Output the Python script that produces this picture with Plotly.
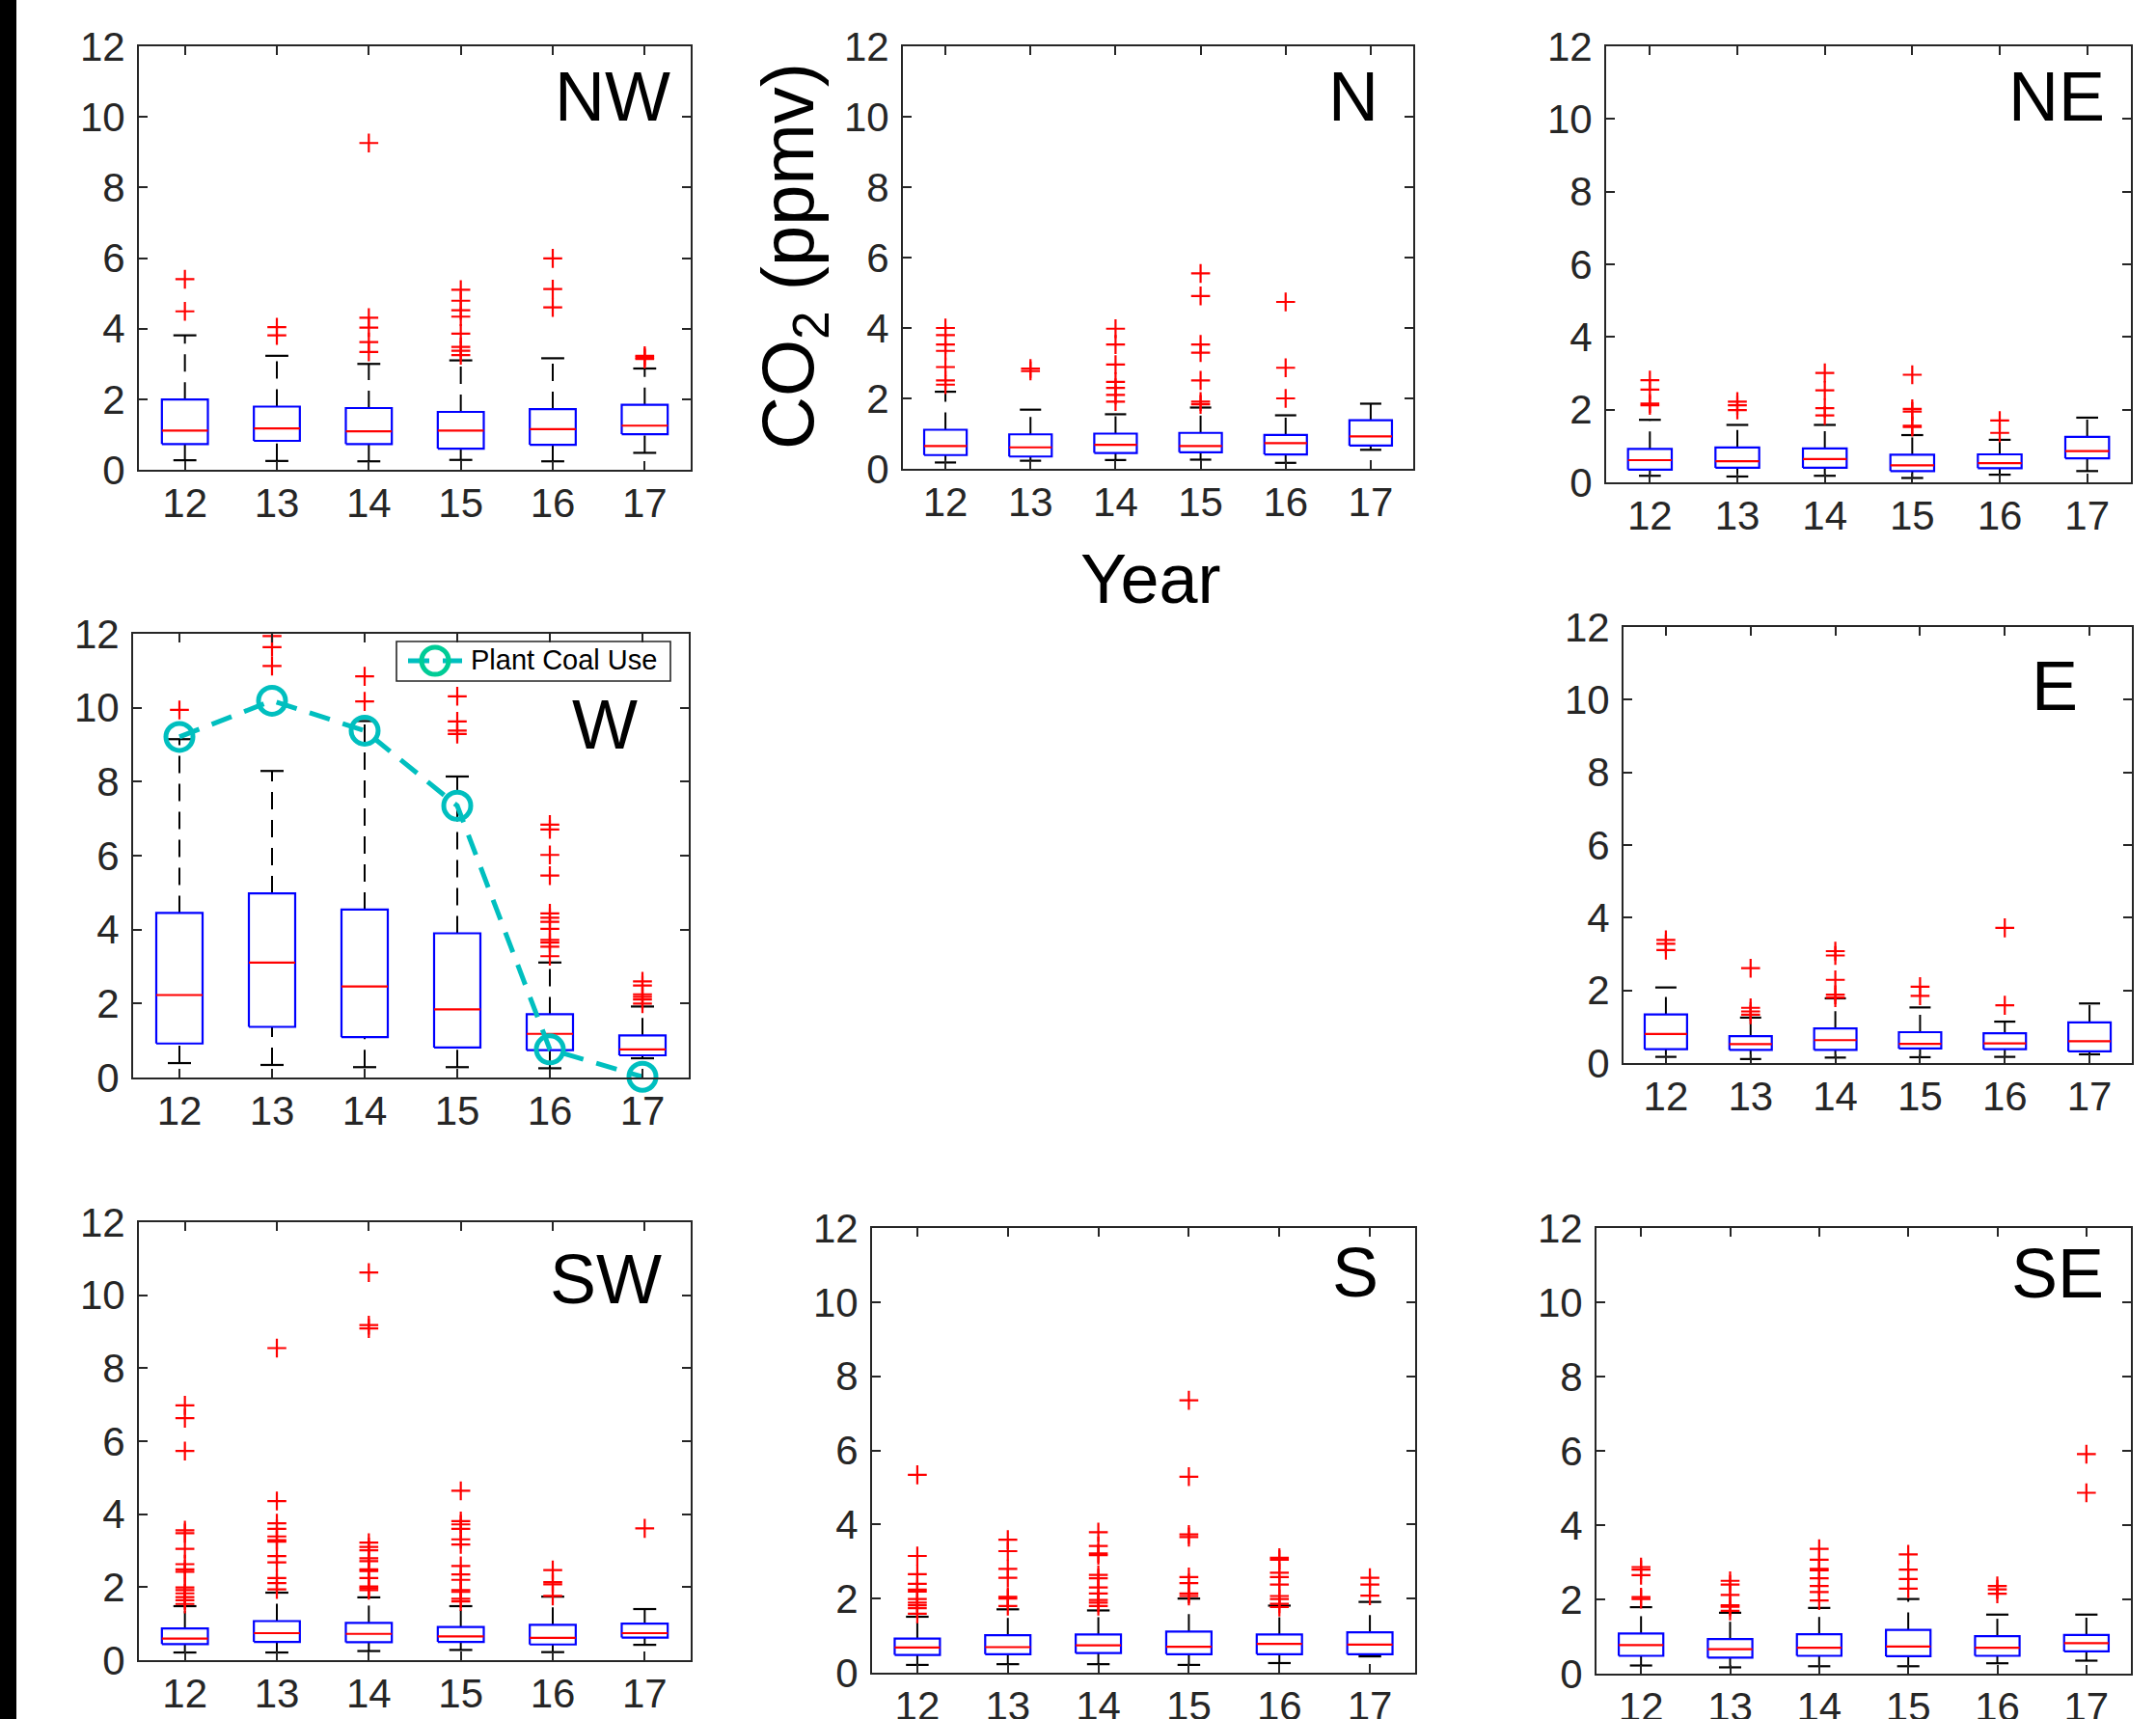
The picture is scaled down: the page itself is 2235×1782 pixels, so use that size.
import plotly.graph_objects as go

W_PX, H_PX = 2235, 1782
YEARS = [12, 13, 14, 15, 16, 17]

# ---------------- data (CO2 ppmv box statistics by wind sector) ----------------
NW_LOW = [0.27, 0.25, 0.24, 0.28, 0.24, 0.48]
NW_Q1 = [0.73, 0.82, 0.73, 0.60, 0.71, 1.01]
NW_MED = [1.11, 1.17, 1.09, 1.11, 1.15, 1.25]
NW_Q3 = [1.99, 1.79, 1.75, 1.64, 1.72, 1.84]
NW_UP = [3.81, 3.23, 3.00, 3.10, 3.16, 2.87]
NW_OUT = [[5.40, 4.49], [4.04, 3.81], [9.26, 4.31, 4.03, 3.62, 3.34],
          [5.10, 4.79, 4.52, 4.34, 3.86, 3.48, 3.37, 3.25], [5.99, 5.12, 4.60],
          [3.23, 3.18, 3.14]]

N_LOW = [0.18, 0.23, 0.25, 0.26, 0.17, 0.54]
N_Q1 = [0.39, 0.35, 0.45, 0.47, 0.41, 0.66]
N_MED = [0.65, 0.61, 0.68, 0.65, 0.73, 0.92]
N_Q3 = [1.11, 0.98, 1.00, 1.02, 0.96, 1.38]
N_UP = [2.19, 1.68, 1.55, 1.74, 1.52, 1.85]
N_OUT = [[4.00, 3.80, 3.53, 3.35, 2.89, 2.51, 2.39], [2.85, 2.78],
         [3.98, 3.53, 2.96, 2.47, 2.30, 2.10, 1.91],
         [5.55, 4.91, 3.53, 3.30, 2.51, 1.91, 1.83], [4.74, 2.87, 2.00], []]

NE_LOW = [0.18, 0.16, 0.18, 0.12, 0.21, 0.31]
NE_Q1 = [0.35, 0.40, 0.40, 0.31, 0.39, 0.66]
NE_MED = [0.61, 0.58, 0.64, 0.47, 0.53, 0.86]
NE_Q3 = [0.92, 0.96, 0.93, 0.76, 0.77, 1.25]
NE_UP = [1.72, 1.58, 1.58, 1.30, 1.17, 1.78]
NE_OUT = [[2.81, 2.55, 2.17, 2.12], [2.22, 2.12, 1.99], [3.01, 2.53, 2.04, 1.84],
          [2.96, 2.02, 1.95, 1.56, 1.52], [1.70, 1.36], []]

W_LOW = [0.39, 0.34, 0.28, 0.28, 0.25, 0.52]
W_Q1 = [0.92, 1.37, 1.09, 0.81, 0.74, 0.60]
W_MED = [2.23, 3.11, 2.46, 1.84, 1.18, 0.76]
W_Q3 = [4.45, 4.98, 4.54, 3.90, 1.71, 1.14]
W_UP = [9.15, 8.29, 9.64, 8.14, 3.11, 1.92]
W_OUT = [[9.94], [11.94, 11.64, 11.13], [10.85, 10.17], [10.31, 9.63, 9.38, 9.29],
         [6.84, 6.71, 6.02, 5.46, 4.44, 4.32, 4.21, 4.02, 3.72, 3.65, 3.54, 3.28],
         [2.60, 2.49, 2.25, 2.18, 2.11, 2.00]]

E_LOW = [0.17, 0.11, 0.15, 0.16, 0.17, 0.24]
E_Q1 = [0.38, 0.36, 0.36, 0.40, 0.38, 0.32]
E_MED = [0.80, 0.52, 0.63, 0.53, 0.54, 0.60]
E_Q3 = [1.34, 0.74, 0.95, 0.85, 0.82, 1.12]
E_UP = [2.08, 1.25, 1.78, 1.53, 1.14, 1.64]
E_OUT = [[3.39, 3.28, 3.11], [2.61, 1.52, 1.42, 1.33], [3.08, 2.96, 2.29, 1.88, 1.80],
         [2.10, 1.85], [3.72, 1.59], []]

SW_LOW = [0.21, 0.21, 0.25, 0.28, 0.22, 0.42]
SW_Q1 = [0.44, 0.50, 0.49, 0.50, 0.43, 0.62]
SW_MED = [0.59, 0.74, 0.72, 0.65, 0.61, 0.74]
SW_Q3 = [0.87, 1.07, 1.02, 0.91, 0.97, 1.00]
SW_UP = [1.48, 1.85, 1.72, 1.48, 1.74, 1.40]
SW_OUT = [[6.98, 6.63, 5.73, 3.56, 3.48, 3.05, 2.63, 2.49, 2.42, 1.99, 1.92, 1.83, 1.73, 1.64, 1.54],
          [8.55, 4.36, 3.75, 3.60, 3.39, 3.29, 3.25, 2.85, 2.68, 2.25, 2.11, 1.94],
          [10.62, 9.18, 9.09, 3.22, 3.10, 3.01, 2.79, 2.71, 2.49, 2.44, 2.25, 2.02, 1.97, 1.92],
          [4.64, 3.81, 3.72, 3.60, 3.31, 3.17, 2.58, 2.35, 2.20, 1.92, 1.87, 1.68, 1.61],
          [2.47, 2.14, 2.08, 1.76], [3.61]]

S_LOW = [0.21, 0.23, 0.23, 0.21, 0.26, 0.44]
S_Q1 = [0.48, 0.50, 0.53, 0.50, 0.50, 0.50]
S_MED = [0.68, 0.69, 0.74, 0.70, 0.78, 0.76]
S_Q3 = [0.92, 1.01, 1.03, 1.11, 1.03, 1.09]
S_UP = [1.51, 1.71, 1.68, 2.00, 1.81, 1.91]
S_OUT = [[5.34, 3.15, 2.66, 2.40, 2.24, 2.19, 1.99, 1.89, 1.82, 1.74, 1.59],
         [3.59, 3.28, 2.80, 2.56, 2.05, 2.00, 1.80],
         [3.79, 3.42, 3.22, 3.17, 2.64, 2.55, 2.30, 2.14, 1.96, 1.89, 1.80],
         [7.35, 5.29, 3.73, 3.66, 2.58, 2.42, 2.14, 2.07],
         [3.10, 3.05, 2.70, 2.58, 2.38, 2.07, 1.99, 1.86, 1.77],
         [2.56, 2.38, 2.08]]

SE_LOW = [0.22, 0.17, 0.20, 0.20, 0.28, 0.35]
SE_Q1 = [0.48, 0.43, 0.48, 0.47, 0.48, 0.60]
SE_MED = [0.77, 0.66, 0.70, 0.73, 0.70, 0.82]
SE_Q3 = [1.08, 0.93, 1.06, 1.18, 1.01, 1.04]
SE_UP = [1.79, 1.64, 1.77, 2.01, 1.59, 1.59]
SE_OUT = [[2.87, 2.80, 2.65, 2.06, 2.01], [2.50, 2.40, 2.12, 1.84, 1.80, 1.69],
          [3.36, 3.07, 2.82, 2.78, 2.57, 2.36, 2.20, 1.97], [3.21, 2.80, 2.55, 2.29],
          [2.36, 2.27, 2.15], [5.91, 4.87]]

COAL_USE = [9.21, 10.19, 9.38, 7.35, 0.76, 0.02]
COAL_NAME = "Plant Coal Use"

PANEL_NAMES = ["NW", "N", "NE", "W", "E", "SW", "S", "SE"]
PANEL_DATA = {
    "NW": (NW_LOW, NW_Q1, NW_MED, NW_Q3, NW_UP, NW_OUT),
    "N": (N_LOW, N_Q1, N_MED, N_Q3, N_UP, N_OUT),
    "NE": (NE_LOW, NE_Q1, NE_MED, NE_Q3, NE_UP, NE_OUT),
    "W": (W_LOW, W_Q1, W_MED, W_Q3, W_UP, W_OUT),
    "E": (E_LOW, E_Q1, E_MED, E_Q3, E_UP, E_OUT),
    "SW": (SW_LOW, SW_Q1, SW_MED, SW_Q3, SW_UP, SW_OUT),
    "S": (S_LOW, S_Q1, S_MED, S_Q3, S_UP, S_OUT),
    "SE": (SE_LOW, SE_Q1, SE_MED, SE_Q3, SE_UP, SE_OUT),
}

# ---------------- layout geometry (pixels) ----------------
PANEL_BOX = {  # left, top, right, bottom
    "NW": (144, 48, 716, 487),
    "N": (936, 48, 1465, 486),
    "NE": (1665, 48, 2209, 500),
    "W": (138, 657, 714, 1117),
    "E": (1683, 650, 2210, 1102),
    "SW": (144, 1267, 716, 1721),
    "S": (904, 1273, 1467, 1734),
    "SE": (1655, 1273, 2209, 1735),
}
LABEL_POS = {  # right edge x, vertical center y of label text
    "NW": (697, 100), "N": (1431, 100), "NE": (2184, 100), "W": (663, 751),
    "E": (2156, 711), "SW": (688, 1326), "S": (1431, 1319), "SE": (2183, 1320),
}
LEGEND_BOX = (411, 665, 695, 706)       # left, top, right, bottom
LEGEND_SAMPLE = (423, 479, 685)         # x0, x1, y-center of the legend sample line
LEGEND_TEXT_POS = (486, 684)


def px_x(x):
    return x / W_PX


def px_y(y):
    return 1 - y / H_PX


FONT = "Liberation Sans, Arial, Helvetica, sans-serif"
AX_COLOR = "#262626"
COAL_COLOR = "#00BFBF"
BOX_HALF = 0.25
CAP_HALF = 0.125
COAL_LINE = dict(color=COAL_COLOR, width=5, dash="22px,14px")
COAL_MARKER = dict(symbol="circle-open", size=28, line=dict(color=COAL_COLOR, width=5))

fig = go.Figure()
layout_axes = {}
annotations = []

for k, name in enumerate(PANEL_NAMES, start=1):
    low, q1, med, q3, up, outs = PANEL_DATA[name]
    xa = "x" if k == 1 else f"x{k}"
    ya = "y" if k == 1 else f"y{k}"

    wx, wy, cx, cy, bx, by, mx, my, ox, oy = [], [], [], [], [], [], [], [], [], []
    for i, yr in enumerate(YEARS):
        wx += [yr, yr, None, yr, yr, None]
        wy += [q3[i], up[i], None, low[i], q1[i], None]
        cx += [yr - CAP_HALF, yr + CAP_HALF, None, yr - CAP_HALF, yr + CAP_HALF, None]
        cy += [up[i], up[i], None, low[i], low[i], None]
        bx += [yr - BOX_HALF, yr + BOX_HALF, yr + BOX_HALF, yr - BOX_HALF, yr - BOX_HALF, None]
        by += [q1[i], q1[i], q3[i], q3[i], q1[i], None]
        mx += [yr - BOX_HALF, yr + BOX_HALF, None]
        my += [med[i], med[i], None]
        for v in outs[i]:
            ox.append(yr)
            oy.append(v)

    common = dict(xaxis=xa, yaxis=ya, showlegend=False, hoverinfo="skip")
    fig.add_trace(go.Scatter(x=wx, y=wy, mode="lines",
                             line=dict(color="black", width=2, dash="18px,11px"), **common))
    fig.add_trace(go.Scatter(x=cx, y=cy, mode="lines",
                             line=dict(color="black", width=2.2), **common))
    fig.add_trace(go.Scatter(x=bx, y=by, mode="lines",
                             line=dict(color="#0000FF", width=2.2), **common))
    fig.add_trace(go.Scatter(x=mx, y=my, mode="lines",
                             line=dict(color="#FF0000", width=2.2), **common))
    fig.add_trace(go.Scatter(x=ox, y=oy, mode="markers",
                             marker=dict(symbol="cross-thin", size=14,
                                         line=dict(color="#FF0000", width=2.2)),
                             **common))

    if name == "W":
        fig.add_trace(go.Scatter(x=YEARS, y=COAL_USE, mode="lines+markers",
                                 name=COAL_NAME, cliponaxis=False,
                                 line=COAL_LINE, marker=COAL_MARKER, **common))

    l, t, r, b = PANEL_BOX[name]
    axis_common = dict(showline=True, linecolor=AX_COLOR, linewidth=2, mirror="allticks",
                       ticks="inside", ticklen=9, tickwidth=2, tickcolor=AX_COLOR,
                       showgrid=False, zeroline=False, automargin=False, fixedrange=True,
                       tickfont=dict(family=FONT, size=42, color=AX_COLOR))
    layout_axes["xaxis" if k == 1 else f"xaxis{k}"] = dict(
        domain=[px_x(l), px_x(r)], anchor=ya, range=[11.5, 17.5],
        tickvals=YEARS, ticktext=[str(v) for v in YEARS], ticklabelstandoff=-3, **axis_common)
    layout_axes["yaxis" if k == 1 else f"yaxis{k}"] = dict(
        domain=[px_y(b), px_y(t)], anchor=xa, range=[0, 12],
        tickvals=[0, 2, 4, 6, 8, 10, 12], ticklabelstandoff=4, **axis_common)

    lx, ly = LABEL_POS[name]
    annotations.append(dict(text=name, xref="paper", yref="paper", x=px_x(lx), y=px_y(ly),
                            xanchor="right", yanchor="middle", showarrow=False,
                            font=dict(family=FONT, size=72, color="black")))

# ---------------- legend for the coal-use line (drawn MATLAB-style) ----------------
sx0, sx1, sy = LEGEND_SAMPLE
layout_axes["xaxis9"] = dict(domain=[px_x(sx0), px_x(sx1)], range=[0, 1], visible=False,
                             fixedrange=True, anchor="y9")
layout_axes["yaxis9"] = dict(domain=[px_y(sy + 18), px_y(sy - 18)], range=[-1, 1],
                             visible=False, fixedrange=True, anchor="x9")
fig.add_trace(go.Scatter(x=[0, 1], y=[0, 0], mode="lines", line=COAL_LINE,
                         xaxis="x9", yaxis="y9", showlegend=False, hoverinfo="skip",
                         cliponaxis=False))
fig.add_trace(go.Scatter(x=[0.5], y=[0], mode="markers", marker=COAL_MARKER,
                         xaxis="x9", yaxis="y9", showlegend=False, hoverinfo="skip",
                         cliponaxis=False))
tx, ty = LEGEND_TEXT_POS
annotations.append(dict(text=COAL_NAME, xref="paper", yref="paper", x=px_x(tx), y=px_y(ty),
                        xanchor="left", yanchor="middle", showarrow=False,
                        font=dict(family=FONT, size=29, color="black")))

annotations.append(dict(text="CO<sub>2</sub> (ppmv)", xref="paper", yref="paper",
                        x=px_x(822), y=px_y(266), xanchor="center", yanchor="middle",
                        textangle=-90, showarrow=False,
                        font=dict(family=FONT, size=76, color="black")))
annotations.append(dict(text="Year", xref="paper", yref="paper",
                        x=px_x(1192), y=px_y(600), xanchor="center", yanchor="middle",
                        showarrow=False, font=dict(family=FONT, size=72, color="black")))

lb = LEGEND_BOX
fig.update_layout(
    width=W_PX, height=H_PX,
    margin=dict(l=0, r=0, t=0, b=0, pad=0, autoexpand=False),
    paper_bgcolor="white", plot_bgcolor="white",
    showlegend=False,
    annotations=annotations,
    shapes=[
        dict(type="rect", xref="paper", yref="paper", x0=0, x1=px_x(17), y0=0, y1=1,
             fillcolor="black", line=dict(width=0), layer="above"),
        dict(type="rect", xref="paper", yref="paper", x0=px_x(lb[0]), x1=px_x(lb[2]),
             y0=px_y(lb[3]), y1=px_y(lb[1]), fillcolor="rgba(0,0,0,0)",
             line=dict(color=AX_COLOR, width=1.6), layer="above"),
    ],
    **layout_axes,
)

fig.write_html("out.html", config={"displayModeBar": False, "staticPlot": True},
               post_script="document.body.style.margin='0px';document.body.style.overflow='hidden';")
